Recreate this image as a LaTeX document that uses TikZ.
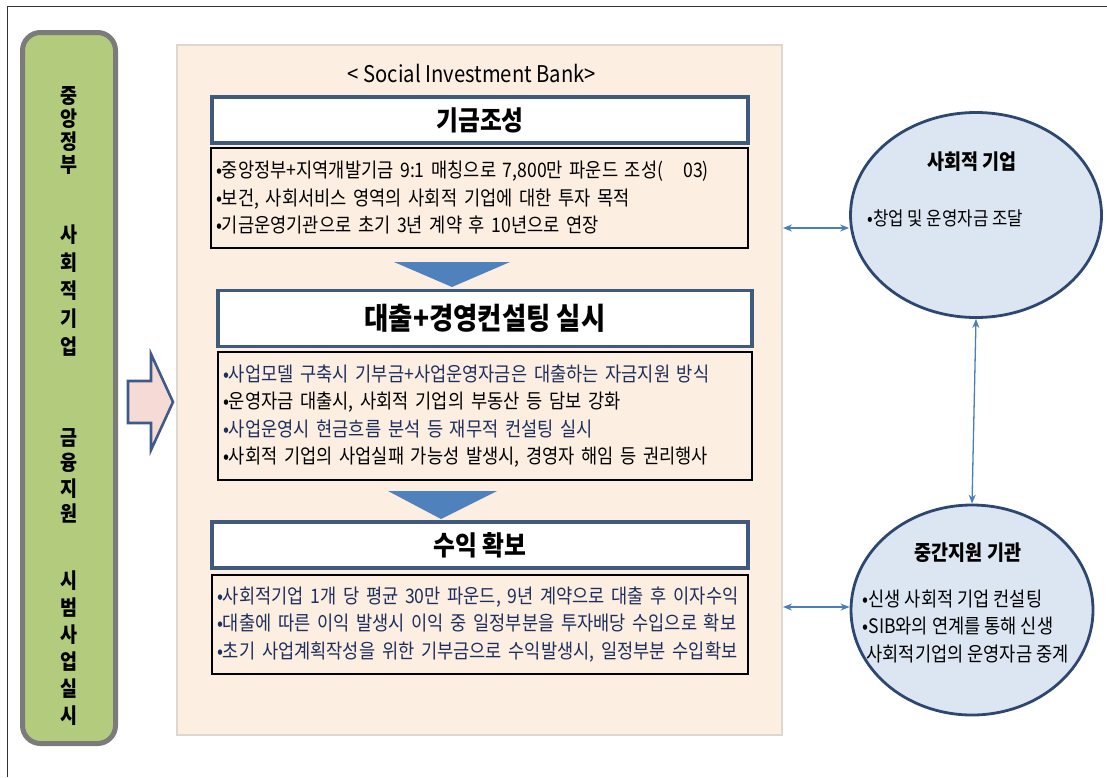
\documentclass[tikz,border=0pt]{standalone}
\usepackage{fontspec}
\newfontfamily\kr{Noto Sans CJK KR}[FakeStretch=0.88]
\usetikzlibrary{shapes.geometric,arrows.meta}
\definecolor{greenfill}{HTML}{B3CB7C}
\definecolor{greenedge}{HTML}{7B7B7B}
\definecolor{panelfill}{HTML}{FCEFE2}
\definecolor{paneledge}{HTML}{DDD8CF}
\definecolor{titleedge}{HTML}{3E5A7C}
\definecolor{triblue}{HTML}{4F81BD}
\definecolor{pinkfill}{HTML}{F6DAD6}
\definecolor{arrowedge}{HTML}{3D5A88}
\definecolor{ellfill}{HTML}{DCE6F2}
\definecolor{elledge}{HTML}{2D4770}
\definecolor{connblue}{HTML}{4A7EBB}
\definecolor{navytext}{HTML}{1F2F5C}
\tikzset{
  every node/.style={font=\kr},
  titlebox/.style={draw=titleedge, line width=3.5pt, fill=white, inner sep=0pt,
    font=\kr\bfseries\fontsize{27}{32}\selectfont},
  textbox/.style={draw=black, line width=1.1pt, fill=panelfill, inner sep=0pt, align=left,
    font=\kr\fontsize{20}{27.5}\selectfont},
  ellbox/.style={ellipse, draw=elledge, line width=2.8pt, fill=ellfill, inner sep=0pt},
  conn/.style={draw=connblue, line width=1.3pt, {Stealth[length=9pt,width=7pt]}-{Stealth[length=9pt,width=7pt]}},
  greentxt/.style={align=center, font=\kr\bfseries\fontsize{21}{#1}\selectfont},
}
\begin{document}
\begin{tikzpicture}[x=1pt,y=-1pt]
\useasboundingbox (0,0) rectangle (1107,777);
% outer frame lines
\draw[line width=1pt, black!80] (7,777) -- (7,6) -- (1107,6);

% left green box
\node[draw=greenedge, line width=5pt, fill=greenfill, rounded corners=18pt,
  minimum width=93pt, minimum height=711pt, inner sep=0pt] (gov) at (69,388) {};
\node[greentxt=23pt] (g1) at (69,131) {중\\앙\\정\\부};
\node[greentxt=28pt] (g2) at (69,291) {사\\회\\적\\기\\업};
\node[greentxt=25.5pt] (g3) at (69,476) {금\\융\\지\\원};
\node[greentxt=27pt] (g4) at (69,648) {시\\범\\사\\업\\실\\시};

% outline arrow
\draw[draw=arrowedge, line width=2.6pt, fill=pinkfill, line join=miter]
  (128,381) -- (151,381) -- (151,354) -- (173,402) -- (151,450) -- (151,423) -- (128,423) -- cycle;

% main panel
\node[draw=paneledge, line width=2pt, fill=panelfill, minimum width=605pt, minimum height=690pt,
  inner sep=0pt] (panel) at (479.5,390) {};
\node[font=\kr\fontsize{23}{26}\selectfont] (sib) at (472,73) {< Social Investment Bank>};

% box 1
\node[titlebox, minimum width=536pt, minimum height=46pt] (t1) at (480,120) {기금조성};
\node[textbox, minimum width=537pt, minimum height=100pt, text width=527pt] (b1) at (479.5,198)
{•중앙정부+지역개발기금 9:1 매칭으로 7,800만 파운드 조성(\ \ \ 03)\\
•보건, 사회서비스 영역의 사회적 기업에 대한 투자 목적\\
•기금운영기관으로 초기 3년 계약 후 10년으로 연장};

\fill[triblue] (394,262) -- (510,262) -- (452,287) -- cycle;

% box 2
\node[titlebox, minimum width=534pt, minimum height=56pt, font=\kr\bfseries\fontsize{30}{34}\selectfont] (t2) at (485,318.5) {대출+경영컨설팅 실시};
\node[textbox, minimum width=534pt, minimum height=128pt, text width=524pt] (b2) at (485,416)
{\textcolor{navytext}{•사업모델 구축시 기부금+사업운영자금은 대출하는 자금지원 방식}\\
•운영자금 대출시, 사회적 기업의 부동산 등 담보 강화\\
\textcolor{navytext}{•사업운영시 현금흐름 분석 등 재무적 컨설팅 실시}\\
•사회적 기업의 사업실패 가능성 발생시, 경영자 해임 등 권리행사};

\fill[triblue] (388,491) -- (497,491) -- (441,519) -- cycle;

% box 3
\node[titlebox, minimum width=536pt, minimum height=46pt] (t3) at (480,545) {수익 확보};
\node[textbox, minimum width=536pt, minimum height=99pt, text width=526pt, text=navytext] (b3) at (480,624.5)
{•사회적기업 1개 당 평균 30만 파운드, 9년 계약으로 대출 후 이자수익\\
•대출에 따른 이익 발생시 이익 중 일정부분을 투자배당 수입으로 확보\\
•초기 사업계획작성을 위한 기부금으로 수익발생시, 일정부분 수입확보};

% ellipses
\node[ellbox, minimum width=251pt, minimum height=205pt] (e1) at (976,215) {};
\node[font=\kr\bfseries\fontsize{21}{24}\selectfont] (e1t) at (972,162) {사회적 기업};
\node[font=\kr\fontsize{19}{22}\selectfont, anchor=west] (e1b) at (864,218) {•창업 및 운영자금 조달};

\node[ellbox, minimum width=242pt, minimum height=210pt] (e2) at (972,610) {};
\node[font=\kr\bfseries\fontsize{21}{24}\selectfont] (e2t) at (968,553) {중간지원 기관};
\node[font=\kr\fontsize{20}{27.5}\selectfont, align=left, anchor=north west] (e2b) at (859,586)
{•신생 사회적 기업 컨설팅\\ •SIB와의 연계를 통해 신생\\ \ 사회적기업의 운영자금 중계};

% connectors
\coordinate (a1) at (783,228);
\coordinate (a2) at (783,607);
\draw[conn] (a1) -- (e1.west |- a1);
\draw[conn] (a2) -- (e2.west |- a2);
\draw[conn] (e1.south) -- (e2.north);
\end{tikzpicture}
\end{document}
